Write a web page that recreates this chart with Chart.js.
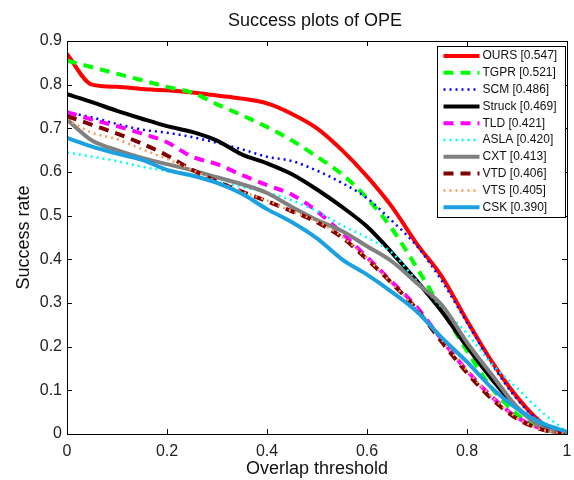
<!DOCTYPE html>
<html><head><meta charset="utf-8">
<script src="https://cdn.jsdelivr.net/npm/chart.js@4/dist/chart.umd.min.js"></script>
<style>html,body{margin:0;padding:0;background:#fff}#wrap{width:574px;height:480px}</style>
</head><body><div id="wrap"><canvas id="c" width="574" height="480"></canvas></div>
<script>
const thresholds = [0,0.05,0.1,0.15,0.2,0.25,0.3,0.35,0.4,0.45,0.5,0.55,0.6,0.65,0.7,0.75,0.8,0.85,0.9,0.95,1];
const ours   = [0.870,0.800,0.795,0.790,0.787,0.782,0.775,0.768,0.757,0.733,0.700,0.650,0.590,0.520,0.435,0.360,0.260,0.165,0.085,0.025,0.000];
const tgpr   = [0.855,0.840,0.825,0.810,0.795,0.782,0.755,0.730,0.703,0.672,0.635,0.595,0.540,0.470,0.380,0.285,0.190,0.105,0.045,0.012,0.000];
const scm    = [0.737,0.725,0.710,0.697,0.690,0.680,0.667,0.652,0.635,0.625,0.603,0.575,0.540,0.488,0.430,0.350,0.255,0.160,0.080,0.025,0.000];
const struck = [0.778,0.760,0.740,0.722,0.705,0.692,0.672,0.640,0.620,0.595,0.560,0.520,0.475,0.415,0.350,0.280,0.200,0.125,0.060,0.020,0.000];
const tld    = [0.737,0.720,0.705,0.688,0.668,0.635,0.618,0.593,0.570,0.548,0.510,0.460,0.405,0.348,0.290,0.215,0.145,0.085,0.038,0.012,0.000];
const asla   = [0.645,0.635,0.625,0.612,0.602,0.590,0.578,0.566,0.553,0.535,0.510,0.478,0.450,0.415,0.350,0.290,0.230,0.160,0.105,0.050,0.005];
const cxt    = [0.720,0.672,0.650,0.632,0.618,0.604,0.588,0.572,0.552,0.520,0.490,0.465,0.430,0.395,0.345,0.295,0.210,0.135,0.062,0.015,0.000];
const vtd    = [0.728,0.708,0.688,0.665,0.638,0.605,0.578,0.555,0.533,0.510,0.485,0.450,0.400,0.345,0.285,0.210,0.140,0.080,0.035,0.010,0.000];
const vts    = [0.720,0.690,0.675,0.652,0.630,0.605,0.578,0.555,0.535,0.510,0.487,0.452,0.402,0.345,0.285,0.215,0.145,0.085,0.037,0.010,0.000];
const csk    = [0.678,0.658,0.642,0.628,0.605,0.592,0.575,0.550,0.515,0.485,0.448,0.400,0.365,0.325,0.280,0.220,0.165,0.105,0.058,0.025,0.005];
const seriesNames  = ["OURS","TGPR","SCM","Struck","TLD","ASLA","CXT","VTD","VTS","CSK"];
const seriesScores = ["0.547","0.521","0.486","0.469","0.421","0.420","0.413","0.406","0.405","0.390"];
const xTickValues = [0,0.2,0.4,0.6,0.8,1];
const yTickValues = [0,0.1,0.2,0.3,0.4,0.5,0.6,0.7,0.8,0.9];
const chartTitle = 'Success plots of OPE';

const seriesValues = [ours,tgpr,scm,struck,tld,asla,cxt,vtd,vts,csk];
const styles = [
  {c:'#ff0000', w:4,   d:[]},
  {c:'#00ff00', w:4,   d:[10,7]},
  {c:'#0000ff', w:2.5, d:[2,4]},
  {c:'#000000', w:4,   d:[]},
  {c:'#ff00ff', w:4,   d:[10,7]},
  {c:'#00ffff', w:2.5, d:[2,4]},
  {c:'#808080', w:4,   d:[]},
  {c:'#800000', w:4,   d:[10,7]},
  {c:'#ff9955', w:2.5, d:[2,4]},
  {c:'#1ba1e2', w:4,   d:[]}
];
const FONT = "'Liberation Sans', Arial, Helvetica, sans-serif";

const datasets = seriesNames.map((n,i)=>({
  label: n + ' [' + seriesScores[i] + ']',
  data: thresholds.map((t,k)=>({x:t, y:seriesValues[i][k]})),
  borderColor: styles[i].c,
  backgroundColor: styles[i].c,
  borderWidth: styles[i].w,
  borderDash: styles[i].d,
  pointRadius: 0,
  fill: false,
  cubicInterpolationMode: 'monotone',
  order: seriesNames.length - i
}));

const framePlugin = {
  id: 'frame',
  afterDatasetsDraw(chart) {
    const {ctx, chartArea: a, scales} = chart;
    ctx.save();
    ctx.strokeStyle = '#000';
    ctx.lineWidth = 1;
    ctx.setLineDash([]);
    ctx.strokeRect(Math.round(a.left)+0.5, Math.round(a.top)+0.5, Math.round(a.right-a.left), Math.round(a.bottom-a.top));
    const L = 5;
    ctx.beginPath();
    xTickValues.forEach(v=>{
      const px = Math.round(scales.x.getPixelForValue(v))+0.5;
      ctx.moveTo(px, a.bottom); ctx.lineTo(px, a.bottom-L);
      ctx.moveTo(px, a.top); ctx.lineTo(px, a.top+L);
    });
    yTickValues.forEach(v=>{
      const py = Math.round(scales.y.getPixelForValue(v))+0.5;
      ctx.moveTo(a.left, py); ctx.lineTo(a.left+L, py);
      ctx.moveTo(a.right, py); ctx.lineTo(a.right-L, py);
    });
    ctx.stroke();

    // title, centred over the plot box
    ctx.fillStyle = '#111';
    ctx.font = '18px ' + FONT;
    ctx.textAlign = 'center';
    ctx.textBaseline = 'middle';
    ctx.fillText(chartTitle, (a.left + a.right)/2 - 2, 21);

    // legend box
    const bx = 437.5, by = 46.5, bw = 128, rowH = 16.8;
    const bh = rowH*seriesNames.length + 3;
    ctx.fillStyle = '#fff';
    ctx.fillRect(bx, by, bw, bh);
    ctx.strokeRect(bx, by, bw, bh);
    ctx.font = '12px ' + FONT;
    ctx.textBaseline = 'middle';
    ctx.textAlign = 'left';
    chart.data.datasets.forEach((ds,i)=>{
      const y = by + 9.5 + i*rowH;
      ctx.save();
      ctx.strokeStyle = ds.borderColor;
      ctx.lineWidth = ds.borderWidth;
      ctx.setLineDash(ds.borderDash);
      ctx.beginPath();
      ctx.moveTo(bx+6, y); ctx.lineTo(bx+42, y);
      ctx.stroke();
      ctx.restore();
      ctx.fillStyle = '#111';
      ctx.fillText(ds.label, bx+45, y);
    });
    ctx.restore();
  }
};

new Chart(document.getElementById('c'), {
  type: 'line',
  data: {datasets},
  options: {
    responsive: false,
    devicePixelRatio: 1,
    animation: false,
    layout: {padding: {top: 41, right: 7, left: 0, bottom: 0}},
    plugins: {
      legend: {display: false},
      tooltip: {enabled: false},
      title: {display: false}
    },
    scales: {
      x: {
        type: 'linear', min: 0, max: 1,
        afterBuildTicks: s => { s.ticks = xTickValues.map(v=>({value:v})); },
        afterFit: s => { s.height = 46; s.paddingLeft = 0; s.paddingRight = 0; },
        ticks: {color: '#222', font: {family: FONT, size: 16}, padding: 8, maxRotation: 0, autoSkip: false,
          callback: v => String(v)},
        grid: {display: false, drawTicks: false},
        border: {display: false},
        title: {display: true, text: 'Overlap threshold', color: '#111',
          font: {family: FONT, size: 18}, padding: {top: 3.4, bottom: 0}}
      },
      y: {
        type: 'linear', min: 0, max: 0.9,
        afterBuildTicks: s => { s.ticks = yTickValues.map(v=>({value:v})); },
        afterFit: s => { s.width = 67; s.paddingTop = 0; s.paddingBottom = 0; },
        ticks: {color: '#222', font: {family: FONT, size: 16}, padding: 5, autoSkip: false,
          callback: v => String(v)},
        grid: {display: false, drawTicks: false},
        border: {display: false},
        title: {display: true, text: 'Success rate', color: '#111',
          font: {family: FONT, size: 18}, padding: {top: 13.4, bottom: 0}}
      }
    }
  },
  plugins: [framePlugin]
});
</script>
</body></html>
